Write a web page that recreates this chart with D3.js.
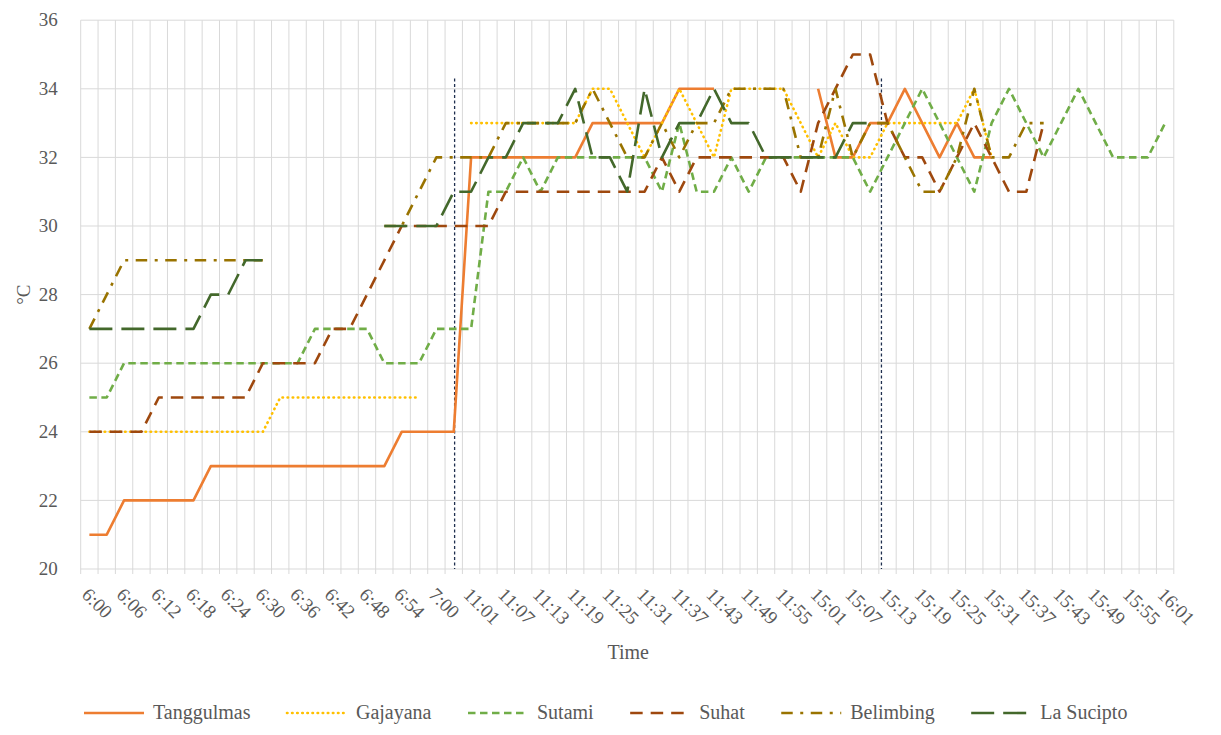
<!DOCTYPE html>
<html>
<head>
<meta charset="utf-8">
<script src="https://cdn.jsdelivr.net/npm/d3@7"></script>
<style>
  html, body { margin: 0; padding: 0; background: #ffffff; }
</style>
</head>
<body>
<svg id="chart" width="1221" height="735"></svg>
<script>
// Sampling times (every 3 minutes, three sessions)
const times = [
  "6:00","6:03","6:06","6:09","6:12","6:15","6:18","6:21","6:24","6:27","6:30",
  "6:33","6:36","6:39","6:42","6:45","6:48","6:51","6:54","6:57","7:00","7:03",
  "11:01","11:04","11:07","11:10","11:13","11:16","11:19","11:22","11:25","11:28",
  "11:31","11:34","11:37","11:40","11:43","11:46","11:49","11:52","11:55","11:58",
  "15:01","15:04","15:07","15:10","15:13","15:16","15:19","15:22","15:25","15:28",
  "15:31","15:34","15:37","15:40","15:43","15:46","15:49","15:52","15:55","15:58","16:01"
];

// Temperature readings (°C) per location; null = no reading
const tanggulmas = [
  21,21,22,22,22,22,22,23,23,23,23,23,23,23,23,23,23,23,24,24,24,24,
  32,32,32,32,32,32,32,33,33,33,33,33,34,34,34,null,null,null,null,null,
  34,32,32,33,33,34,33,32,33,32,32,null,null,null,null,null,null,null,null,null,null
];
const gajayana = [
  24,24,24,24,24,24,24,24,24,24,24,25,25,25,25,25,25,25,25,25,null,null,
  33,33,33,33,33,33,33,34,34,33,32,33,34,33,32,34,34,34,34,33,
  32,33,32,32,33,33,33,33,33,34,32,null,null,null,null,null,null,null,null,null,null
];
const sutami = [
  25,25,26,26,26,26,26,26,26,26,26,26,26,27,27,27,27,26,26,26,27,27,
  27,31,31,32,31,32,32,32,32,32,32,31,33,31,31,32,31,32,32,32,
  32,32,32,31,32,33,34,33,32,31,33,34,33,32,33,34,33,32,32,32,33
];
const suhat = [
  24,24,24,24,25,25,25,25,25,25,26,26,26,26,27,27,28,29,30,30,30,30,
  30,30,31,31,31,31,31,31,31,31,31,32,31,32,32,32,32,32,32,31,
  33,34,35,35,33,32,32,31,32,33,32,31,31,33,null,null,null,null,null,null,null
];
const belimbing = [
  27,28,29,29,29,29,29,29,29,29,29,null,null,null,null,null,null,30,30,31,32,32,
  32,32,33,33,33,33,33,34,33,32,32,33,32,33,33,34,34,34,34,32,
  32,34,32,33,33,32,31,31,32,34,32,32,33,33,null,null,null,null,null,null,null
];
const laSucipto = [
  27,27,27,27,27,27,27,28,28,29,29,null,null,null,null,null,null,30,30,30,30,31,
  31,32,32,33,33,33,34,32,32,31,34,32,33,33,34,33,33,32,32,32,
  32,32,33,33,null,null,null,null,null,null,null,null,null,null,null,null,null
];

// Category positions of the two session dividers
const dividers = [21.05, 45.65];

const yTicks = [20, 22, 24, 26, 28, 30, 32, 34, 36];

const series = [
  { name: "Tanggulmas", values: tanggulmas, color: "#ED7D31", dash: null,             cap: "butt"  },
  { name: "Gajayana",   values: gajayana,   color: "#FFC000", dash: "0.5,4.6",        cap: "round" },
  { name: "Sutami",     values: sutami,     color: "#70AD47", dash: "7.5,4.5",        cap: "butt"  },
  { name: "Suhat",      values: suhat,      color: "#9E480E", dash: "12.5,8",         cap: "butt"  },
  { name: "Belimbing",  values: belimbing,  color: "#997300", dash: "11.5,7.5,3,7.5", cap: "butt"  },
  { name: "La Sucipto", values: laSucipto,  color: "#43682B", dash: "23,9",           cap: "butt"  }
];
const lineWidth = 2.6;
const fontFamily = "'Liberation Serif'";

const svg = d3.select("#chart");
const plot = { left: 80.7, right: 1173.8, top: 20.2, bottom: 569 };

const x = d3.scaleLinear().domain([-0.5, times.length - 0.5]).range([plot.left, plot.right]);
const y = d3.scaleLinear().domain([20, 36]).range([plot.bottom, plot.top]);

const gridColor = "#d9d9d9";
const textColor = "#595959";

// Vertical gridlines at category boundaries
const bounds = d3.range(times.length + 1).map(i => i - 0.5);
svg.append("g").selectAll("line").data(bounds).join("line")
  .attr("x1", d => x(d)).attr("x2", d => x(d))
  .attr("y1", plot.top).attr("y2", plot.bottom)
  .attr("stroke", gridColor).attr("stroke-width", 1);

// Horizontal gridlines
svg.append("g").selectAll("line").data(yTicks).join("line")
  .attr("x1", plot.left).attr("x2", plot.right)
  .attr("y1", d => y(d)).attr("y2", d => y(d))
  .attr("stroke", gridColor).attr("stroke-width", 1);

// Tick marks between categories
svg.append("g").selectAll("line").data(bounds).join("line")
  .attr("x1", d => x(d)).attr("x2", d => x(d))
  .attr("y1", plot.bottom).attr("y2", plot.bottom + 5)
  .attr("stroke", gridColor).attr("stroke-width", 1);

// Value axis labels
svg.append("g").selectAll("text").data(yTicks).join("text")
  .attr("x", plot.left - 23).attr("y", d => y(d))
  .attr("dy", "0.33em")
  .attr("text-anchor", "end")
  .attr("font-size", 19).attr("fill", textColor)
  .style("font-family", fontFamily)
  .text(d => d);

// Category labels (every second sample), rotated
const labelIdx = d3.range(0, times.length, 2);
svg.append("g").selectAll("text").data(labelIdx).join("text")
  .attr("transform", i => `translate(${x(i) + 1},${plot.bottom + 17}) rotate(45)`)
  .attr("dy", "0.72em")
  .attr("text-anchor", "start")
  .attr("font-size", 19).attr("fill", textColor)
  .style("font-family", fontFamily)
  .text(i => times[i]);

// Session dividers
svg.append("g").selectAll("line").data(dividers).join("line")
  .attr("x1", d => x(d)).attr("x2", d => x(d))
  .attr("y1", y(34.3)).attr("y2", plot.bottom)
  .attr("stroke", "#1f2f4f").attr("stroke-width", 1.3)
  .attr("stroke-dasharray", "3,2.5");

// Series lines (straight segments, gaps where readings are missing)
const line = d3.line()
  .defined(d => d.v != null)
  .x(d => x(d.i))
  .y(d => y(d.v));

svg.append("g").selectAll("path").data(series).join("path")
  .attr("d", s => line(s.values.map((v, i) => ({ i, v }))))
  .attr("fill", "none")
  .attr("stroke", s => s.color)
  .attr("stroke-width", lineWidth)
  .attr("stroke-dasharray", s => s.dash)
  .attr("stroke-linecap", s => s.cap)
  .attr("stroke-linejoin", "round");

// Axis titles
svg.append("text")
  .attr("transform", `translate(${23},${y(28)}) rotate(-90)`)
  .attr("text-anchor", "middle").attr("dy", "0.35em")
  .attr("font-size", 19).attr("fill", textColor)
  .style("font-family", fontFamily)
  .text("°C");

svg.append("text")
  .attr("x", (plot.left + plot.right) / 2 + 1).attr("y", 659)
  .attr("text-anchor", "middle")
  .attr("font-size", 20).attr("fill", textColor)
  .style("font-family", fontFamily)
  .text("Time");

// Legend
const legend = svg.append("g");
let lx = 84;
const ly = 713;
series.forEach(s => {
  legend.append("line")
    .attr("x1", lx).attr("x2", lx + 60)
    .attr("y1", ly).attr("y2", ly)
    .attr("stroke", s.color).attr("stroke-width", lineWidth)
    .attr("stroke-dasharray", s.dash)
    .attr("stroke-linecap", s.cap);
  const t = legend.append("text")
    .attr("x", lx + 69).attr("y", ly).attr("dy", "0.3em")
    .attr("font-size", 20).attr("fill", textColor)
    .style("font-family", fontFamily)
    .text(s.name);
  lx += 69 + t.node().getComputedTextLength() + 36.5;
});
</script>
</body>
</html>
